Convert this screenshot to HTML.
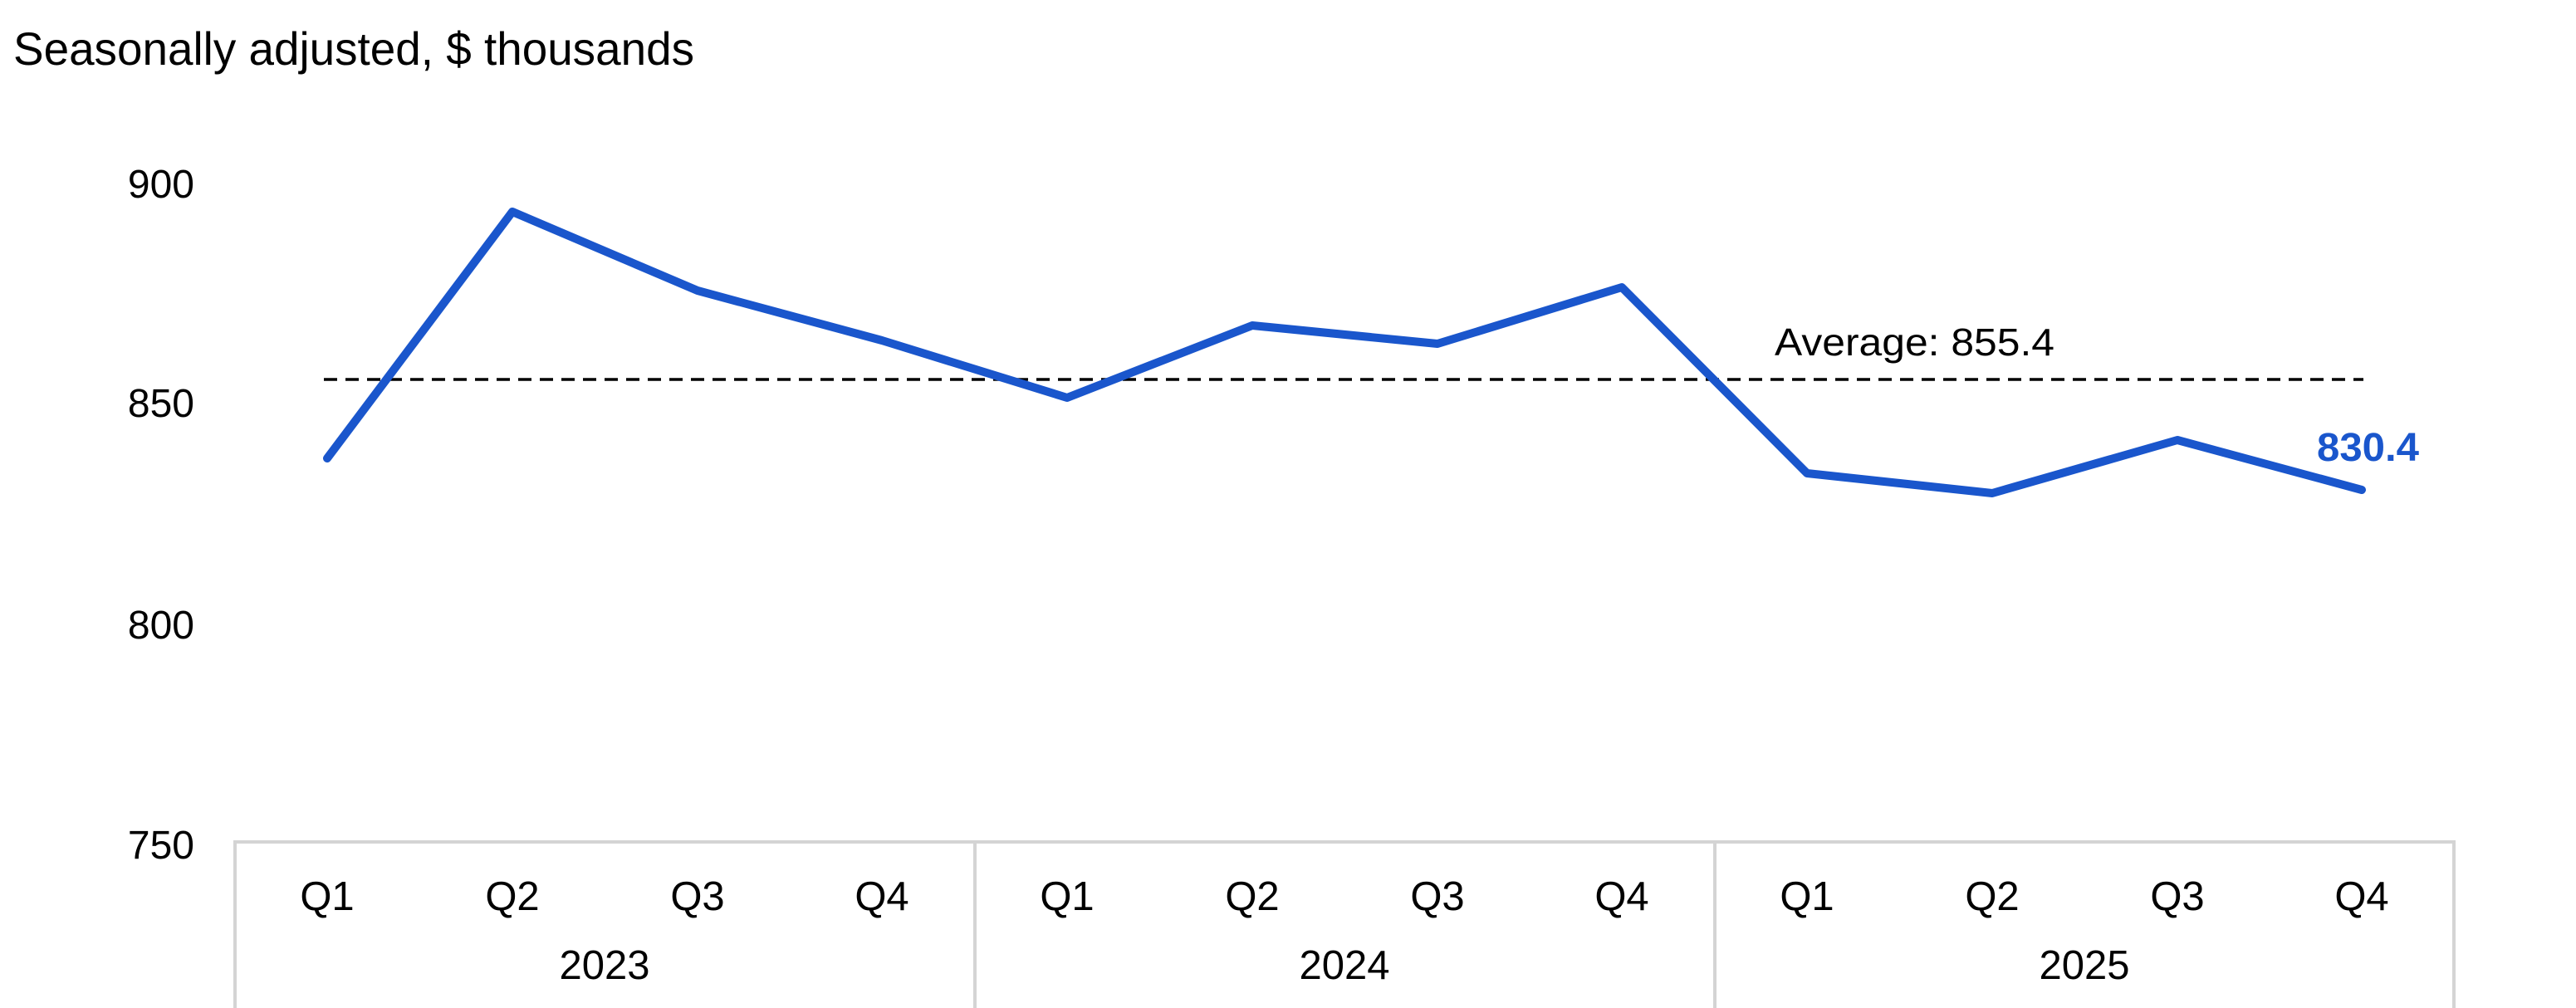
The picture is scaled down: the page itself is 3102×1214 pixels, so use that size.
<!DOCTYPE html>
<html><head><meta charset="utf-8"><style>html,body{margin:0;padding:0;background:#fff}svg{display:block}</style></head>
<body>
<svg width="3102" height="1214" viewBox="0 0 3102 1214" xmlns="http://www.w3.org/2000/svg" font-family="Liberation Sans, Arial, sans-serif">
<rect width="3102" height="1214" fill="#fff"/>
<text x="16" y="78" font-size="56" fill="#000" textLength="820" lengthAdjust="spacingAndGlyphs">Seasonally adjusted, $ thousands</text>
<g font-size="48" fill="#000" text-anchor="end">
<text x="234" y="238">900</text>
<text x="234" y="502">850</text>
<text x="234" y="769">800</text>
<text x="234" y="1034">750</text>
</g>
<g stroke="#d4d4d4" stroke-width="4" fill="none">
<line x1="281" y1="1014" x2="2957" y2="1014"/>
<line x1="283" y1="1012" x2="283" y2="1214"/>
<line x1="1174" y1="1012" x2="1174" y2="1214"/>
<line x1="2065" y1="1012" x2="2065" y2="1214"/>
<line x1="2955" y1="1012" x2="2955" y2="1214"/>
</g>
<g font-size="49" fill="#000" text-anchor="middle">
<text x="394" y="1096">Q1</text><text x="617" y="1096">Q2</text><text x="840" y="1096">Q3</text><text x="1062" y="1096">Q4</text>
<text x="1285" y="1096">Q1</text><text x="1508" y="1096">Q2</text><text x="1731" y="1096">Q3</text><text x="1953" y="1096">Q4</text>
<text x="2176" y="1096">Q1</text><text x="2399" y="1096">Q2</text><text x="2622" y="1096">Q3</text><text x="2844" y="1096">Q4</text>
<text x="728" y="1179">2023</text><text x="1619" y="1179">2024</text><text x="2510" y="1179">2025</text>
</g>
<line x1="390" y1="457" x2="2846" y2="457" stroke="#000" stroke-width="3.5" stroke-dasharray="16,10"/>
<text x="2137" y="428" font-size="46" fill="#000" textLength="337" lengthAdjust="spacingAndGlyphs">Average:  855.4</text>
<polyline fill="none" stroke="#1a56cc" stroke-width="10" stroke-linejoin="round" stroke-linecap="round"
points="394,552 617,255 840,350 1062,410 1285,479 1508,392 1731,414 1953,346 2176,570 2399,594 2622,530 2844,590"/>
<text x="2913" y="555" font-size="48" font-weight="bold" fill="#1a56cc" text-anchor="end" textLength="123" lengthAdjust="spacingAndGlyphs">830.4</text>
</svg>
</body></html>
